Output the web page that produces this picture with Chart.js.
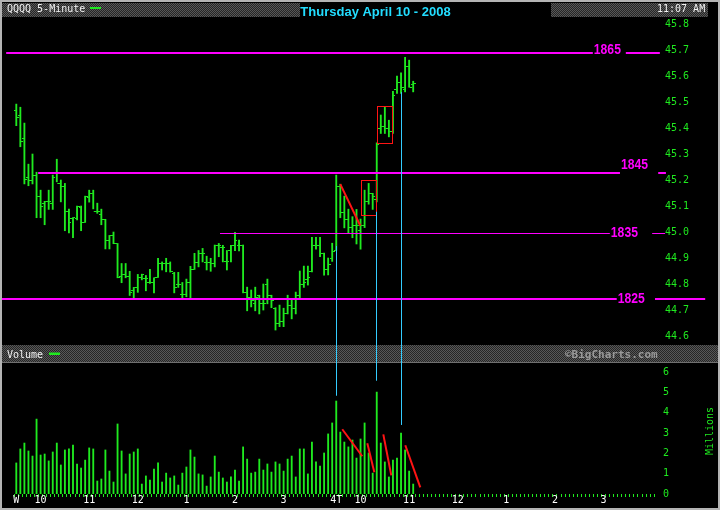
<!DOCTYPE html>
<html lang="en">
<head>
<meta charset="UTF-8">
<title>QQQQ 5-Minute</title>
<script src="https://cdn.jsdelivr.net/npm/chart.js"></script>
<style>
  html, body { margin: 0; padding: 0; background: #000; }
  #wrap { position: relative; width: 720px; height: 510px; background: #000; overflow: hidden; }
  #priceChart { position: absolute; left: 0; top: 0; }
  #volChart { position: absolute; left: 0; top: 345px; }
</style>
</head>
<body>
<div id="wrap">
  <canvas id="priceChart" width="720" height="345"></canvas>
  <canvas id="volChart" width="720" height="165"></canvas>
</div>
<script>
// 5-minute bars, index 0 = Wed 9:30, index 79 = Thu 9:30
const titleText = "Thursday April 10 - 2008";

const opens = [
  45.471,45.453,45.363,45.213,45.203,45.221,45.141,45.113,45.121,45.113,
  45.233,45.190,45.177,45.082,45.054,45.054,45.098,45.040,45.136,45.152,
  45.082,45.072,45.052,44.971,44.988,44.959,44.831,44.841,44.832,44.780,
  44.790,44.828,44.823,44.810,44.810,44.828,44.883,44.883,44.883,44.844,
  44.802,44.764,44.764,44.809,44.859,44.885,44.921,44.885,44.885,44.881,
  44.952,44.942,44.890,44.932,44.952,44.953,44.953,44.770,44.750,44.730,
  44.760,44.730,44.800,44.760,44.710,44.650,44.660,44.690,44.720,44.710,
  44.760,44.800,44.820,44.850,44.950,44.950,44.920,44.860,44.900,44.933,
  45.180,45.080,45.050,45.020,45.030,45.010,45.030,45.120,45.150,45.130,
  45.400,45.410,45.400,45.390,45.550,45.580,45.550,45.640,45.570
];
const highs = [
  45.495,45.483,45.422,45.264,45.303,45.233,45.164,45.121,45.164,45.222,
  45.283,45.203,45.190,45.091,45.059,45.103,45.103,45.141,45.164,45.164,
  45.114,45.091,45.052,44.990,45.003,44.959,44.882,44.882,44.852,44.790,
  44.840,44.841,44.836,44.860,44.827,44.902,44.888,44.902,44.888,44.848,
  44.848,44.809,44.822,44.871,44.921,44.932,44.940,44.910,44.902,44.953,
  44.959,44.952,44.932,44.952,45.002,44.972,44.953,44.791,44.780,44.791,
  44.760,44.803,44.822,44.760,44.712,44.722,44.710,44.760,44.741,44.772,
  44.853,44.872,44.872,44.983,44.983,44.983,44.922,44.903,44.960,45.222,
  45.187,45.141,45.091,45.062,45.090,45.053,45.164,45.190,45.152,45.346,
  45.453,45.485,45.433,45.544,45.603,45.615,45.675,45.664,45.583
];
const lows = [
  45.412,45.331,45.188,45.181,45.188,45.058,45.058,45.031,45.090,45.090,
  45.196,45.119,45.008,45.000,44.981,45.050,45.008,45.040,45.118,45.092,
  45.075,45.031,44.938,44.938,44.958,44.827,44.808,44.827,44.759,44.746,
  44.771,44.819,44.777,44.805,44.769,44.828,44.857,44.850,44.849,44.769,
  44.790,44.750,44.754,44.750,44.859,44.869,44.888,44.857,44.852,44.869,
  44.908,44.888,44.857,44.888,44.931,44.930,44.769,44.700,44.715,44.700,
  44.688,44.703,44.727,44.712,44.626,44.639,44.639,44.688,44.669,44.688,
  44.745,44.790,44.799,44.850,44.937,44.908,44.837,44.838,44.890,44.933,
  45.058,45.019,44.998,44.981,44.957,44.937,45.020,45.110,45.090,45.119,
  45.382,45.382,45.369,45.382,45.536,45.536,45.542,45.560,45.542
];
const closes = [
  45.444,45.352,45.205,45.203,45.221,45.141,45.103,45.121,45.121,45.213,
  45.190,45.180,45.082,45.040,45.059,45.103,45.040,45.138,45.152,45.082,
  45.082,45.053,44.971,44.988,44.959,44.828,44.841,44.832,44.771,44.790,
  44.828,44.841,44.823,44.810,44.828,44.883,44.883,44.883,44.850,44.790,
  44.802,44.764,44.809,44.859,44.885,44.921,44.921,44.885,44.881,44.952,
  44.952,44.942,44.890,44.952,44.971,44.953,44.771,44.750,44.740,44.750,
  44.730,44.730,44.760,44.740,44.650,44.660,44.690,44.720,44.710,44.760,
  44.800,44.810,44.830,44.950,44.950,44.920,44.860,44.880,44.930,45.180,
  45.080,45.050,45.020,45.030,45.030,45.030,45.120,45.150,45.140,45.340,
  45.410,45.400,45.390,45.530,45.580,45.560,45.640,45.560,45.575
];
// volume in millions
const volumes = [
  1.53,2.22,2.51,2.12,1.87,3.69,1.92,1.97,1.63,2.07,
  2.51,1.43,2.17,2.22,2.41,1.48,1.28,1.67,2.27,2.22,
  0.64,0.74,2.17,1.13,0.59,3.45,2.12,0.99,1.97,2.07,
  2.22,0.49,0.89,0.69,1.23,1.53,0.59,1.03,0.79,0.89,
  0.44,1.03,1.33,2.17,1.82,0.99,0.94,0.39,0.84,1.87,
  1.08,0.79,0.59,0.84,1.18,0.64,2.32,1.72,1.03,1.08,
  1.72,1.18,1.48,1.08,1.58,1.48,1.13,1.72,1.87,0.84,
  2.22,2.22,0.99,2.56,1.58,1.38,2.02,2.96,3.50,4.58,
  3.05,2.56,2.32,2.66,1.77,2.71,3.50,2.02,1.03,5.02,
  2.51,1.58,0.84,1.67,1.77,3.00,2.17,1.13,0.49
];

const hourLabels = ['W','10','11','12','1','2','3','4T','10','11','12','1','2','3'];
const hourIdx    = [0, 6, 18, 30, 42, 54, 66, 79, 85, 97, 109, 121, 133, 145];
const slotCount = 158; // Wed + Thu sessions

const priceTicks = [44.6,44.7,44.8,44.9,45.0,45.1,45.2,45.3,45.4,45.5,45.6,45.7,45.8];
const volTicks = [0,1,2,3,4,5,6];

const levelValues = [45.69, 45.231, 45.0, 44.744];
const levelNames = ['1865', '1845', '1835', '1825'];

// hand drawn marks, in bar index / price / volume units
const levelDraw = [
  { from: -2.5, labelAt: 142.6, resume: 150.5, to: 158.9, width: 2, dy: -3 },
  { from: 5.4,  labelAt: 149.3, resume: 158.5, to: 160.4, width: 2, dy: -7.5 },
  { from: 50.3, labelAt: 146.8, resume: 157.0, to: 160.2, width: 1, dy: -0.5 },
  { from: -4.0, labelAt: 148.5, resume: 157.7, to: 170.1, width: 2, dy: 0 }
];
const redBoxes = [
  { x0: 89.14, x1: 92.7, top: 45.487, bottom: 45.346 },
  { x0: 85.19, x1: 88.74, top: 45.202, bottom: 45.069 }
];
const priceTrend = [{ x0: 80.0, y0: 45.187, x1: 84.94, y1: 45.027 }];
const volTrend = [
  { x0: 80.49, y0: 3.19, x1: 85.43, y1: 1.86 },
  { x0: 86.67, y0: 2.50, x1: 88.40, y1: 1.07 },
  { x0: 90.62, y0: 2.94, x1: 92.59, y1: 0.92 },
  { x0: 96.05, y0: 2.40, x1: 99.75, y1: 0.33 }
];
const cyanLines = [
  { idx: 79.0,  price: 44.949, vol: 4.84 },
  { idx: 88.9,  price: 45.081, vol: 5.58 },
  { idx: 95.06, price: 45.541, vol: 3.40 }
];

const mono = "'DejaVu Sans Mono', monospace";
const green = '#1fea1f';
const magenta = '#ff00ff';
const cyan = '#33ccff';
const red = '#ff1414';

const barIdx = opens.map((_, i) => i);
const slots = Array.from({ length: slotCount }, (_, i) => i);

function dither(ctx) {
  const c = document.createElement('canvas');
  c.width = 2; c.height = 2;
  const g = c.getContext('2d');
  g.fillStyle = '#262626'; g.fillRect(0, 0, 2, 2);
  g.fillStyle = '#585858'; g.fillRect(0, 0, 1, 1); g.fillRect(1, 1, 1, 1);
  return ctx.createPattern(c, 'repeat');
}

function tickImage(side) {
  const c = document.createElement('canvas');
  c.width = 5; c.height = 1;
  const g = c.getContext('2d');
  g.fillStyle = green;
  g.fillRect(side === 'left' ? 0 : 3, 0, 2, 1);
  return c;
}

function crisp(v) { return Math.round(v) + 0.5; }

function segment(ctx, x0, y0, x1, y1) {
  ctx.beginPath(); ctx.moveTo(x0, y0); ctx.lineTo(x1, y1); ctx.stroke();
}

// keep the plot area exactly where the layout padding puts it
function fixAxis(s) {
  s.width = 60;
  s.paddingTop = 0;
  s.paddingBottom = 0;
}

// shared x axis: bar index
const xMin = -3.53, xMax = 158.94;

const priceDecor = {
  id: 'priceDecor',
  beforeDraw(chart) {
    const ctx = chart.ctx;
    ctx.save();
    ctx.fillStyle = '#000';
    ctx.fillRect(0, 0, chart.width, chart.height);
    ctx.fillStyle = dither(ctx);
    ctx.fillRect(2, 3, 298, 14);
    ctx.fillRect(551, 3, 157, 14);
    ctx.font = `10px ${mono}`;
    ctx.fillStyle = '#f2f2f2';
    ctx.fillText('QQQQ 5-Minute', 7, 12);
    ctx.fillText('11:07 AM', 657, 12);
    ctx.fillStyle = green;
    ctx.fillRect(90, 7, 11, 2);
    ctx.font = "bold 13px 'Liberation Sans', Arial, sans-serif";
    ctx.fillStyle = '#22ddff';
    ctx.textAlign = 'center';
    ctx.fillText(titleText, 375.5, 15.5);
    ctx.restore();
  },
  afterDatasetsDraw(chart) {
    const ctx = chart.ctx;
    const xs = chart.scales.x, ys = chart.scales.y;
    ctx.save();

    // support / resistance levels
    levelValues.forEach((v, i) => {
      const d = levelDraw[i];
      const y = d.width === 1 ? crisp(ys.getPixelForValue(v)) : Math.round(ys.getPixelForValue(v));
      const lx = xs.getPixelForValue(d.labelAt);
      ctx.strokeStyle = magenta;
      ctx.lineWidth = d.width;
      segment(ctx, xs.getPixelForValue(d.from), y, lx - 1, y);
      segment(ctx, xs.getPixelForValue(d.resume), y, xs.getPixelForValue(d.to), y);
      ctx.save();
      ctx.translate(lx, y + d.dy);
      ctx.scale(0.87, 1);
      ctx.font = "bold 14px 'Liberation Sans', Arial, sans-serif";
      ctx.fillStyle = magenta;
      ctx.textBaseline = 'middle';
      ctx.fillText(levelNames[i], 0, 0);
      ctx.restore();
    });

    // red boxes
    ctx.strokeStyle = red;
    ctx.lineWidth = 1;
    redBoxes.forEach(b => {
      const x0 = crisp(xs.getPixelForValue(b.x0)), x1 = crisp(xs.getPixelForValue(b.x1));
      const y0 = crisp(ys.getPixelForValue(b.top)), y1 = crisp(ys.getPixelForValue(b.bottom));
      ctx.strokeRect(x0, y0, x1 - x0, y1 - y0);
    });

    // red trend line
    ctx.lineWidth = 2;
    priceTrend.forEach(t => {
      segment(ctx, xs.getPixelForValue(t.x0), ys.getPixelForValue(t.y0),
                   xs.getPixelForValue(t.x1), ys.getPixelForValue(t.y1));
    });

    // cyan verticals down into volume panel
    ctx.strokeStyle = cyan;
    ctx.lineWidth = 1;
    cyanLines.forEach(c => {
      const x = crisp(xs.getPixelForValue(c.idx));
      segment(ctx, x, ys.getPixelForValue(c.price), x, chart.height);
    });
    ctx.restore();
  },
  afterDraw(chart) {
    const ctx = chart.ctx;
    ctx.save();
    ctx.strokeStyle = '#b4b4b4';
    ctx.lineWidth = 2;
    ctx.strokeRect(1, 1, 718, 508);
    ctx.restore();
  }
};

const volDecor = {
  id: 'volDecor',
  beforeDraw(chart) {
    const ctx = chart.ctx;
    ctx.save();
    ctx.fillStyle = '#000';
    ctx.fillRect(0, 0, chart.width, chart.height);
    ctx.fillStyle = dither(ctx);
    ctx.fillRect(2, 0, 716, 17);
    ctx.strokeStyle = '#707070';
    ctx.lineWidth = 1;
    segment(ctx, 2, 17.5, 718, 17.5);
    ctx.font = `10px ${mono}`;
    ctx.fillStyle = '#f2f2f2';
    ctx.fillText('Volume', 7, 13);
    ctx.fillStyle = green;
    ctx.fillRect(49, 7.5, 11, 2.5);
    ctx.font = `bold 11px ${mono}`;
    ctx.fillStyle = '#9a9a9a';
    ctx.fillText('\u00a9BigCharts.com', 565, 13);
    ctx.translate(710, 86);
    ctx.rotate(-Math.PI / 2);
    ctx.font = `10px ${mono}`;
    ctx.fillStyle = green;
    ctx.textAlign = 'center';
    ctx.textBaseline = 'middle';
    ctx.fillText('Millions', 0, 0);
    ctx.restore();
  },
  afterDatasetsDraw(chart) {
    const ctx = chart.ctx;
    const xs = chart.scales.x, ys = chart.scales.y;
    ctx.save();
    ctx.strokeStyle = cyan;
    ctx.lineWidth = 1;
    cyanLines.forEach(c => {
      const x = crisp(xs.getPixelForValue(c.idx));
      segment(ctx, x, 0, x, ys.getPixelForValue(c.vol));
    });
    ctx.strokeStyle = red;
    ctx.lineWidth = 2;
    volTrend.forEach(t => {
      segment(ctx, xs.getPixelForValue(t.x0), ys.getPixelForValue(t.y0),
                   xs.getPixelForValue(t.x1), ys.getPixelForValue(t.y1));
    });
    ctx.restore();
  },
  afterDraw(chart) {
    const ctx = chart.ctx;
    ctx.save();
    ctx.strokeStyle = '#b4b4b4';
    ctx.lineWidth = 2;
    ctx.strokeRect(1, 1 - 345, 718, 508);
    ctx.restore();
  }
};

const commonOptions = {
  responsive: false,
  animation: false,
  events: [],
  plugins: { legend: { display: false }, tooltip: { enabled: false } }
};

new Chart(document.getElementById('priceChart'), {
  type: 'bar',
  data: {
    datasets: [
      {
        label: 'High-Low',
        data: barIdx.map(i => ({ x: i, y: [lows[i], highs[i]] })),
        backgroundColor: green,
        borderWidth: 0,
        barThickness: 1.2,
        grouped: false
      },
      {
        type: 'scatter',
        label: 'Open',
        data: barIdx.map(i => ({ x: i, y: opens[i] })),
        pointStyle: tickImage('left'),
        pointRadius: 0.5,
        pointBorderWidth: 0
      },
      {
        type: 'scatter',
        label: 'Close',
        data: barIdx.map(i => ({ x: i, y: closes[i] })),
        pointStyle: tickImage('right'),
        pointRadius: 0.5,
        pointBorderWidth: 0
      }
    ]
  },
  options: {
    ...commonOptions,
    layout: { autoPadding: false, padding: { left: 2, top: 17, right: 0, bottom: 0 } },
    scales: {
      x: { type: 'linear', min: xMin, max: xMax, offset: false, display: false },
      y: {
        position: 'right',
        min: 44.5685,
        max: 45.830,
        afterFit: fixAxis,
        afterBuildTicks: s => { s.ticks = priceTicks.map(v => ({ value: v })); },
        grid: { display: false, drawTicks: false },
        border: { display: false },
        ticks: {
          color: green,
          padding: 5,
          font: { family: mono, size: 10 },
          callback: v => Number(v).toFixed(1)
        }
      }
    }
  },
  plugins: [priceDecor]
});

new Chart(document.getElementById('volChart'), {
  type: 'bar',
  data: {
    datasets: [{
      label: 'Volume',
      data: barIdx.map(i => ({ x: i, y: volumes[i] })),
      backgroundColor: green,
      borderWidth: 0,
      barThickness: 1.2
    }]
  },
  options: {
    ...commonOptions,
    layout: { autoPadding: false, padding: { left: 2, top: 18, right: 0, bottom: 0 } },
    scales: {
      x: {
        type: 'linear',
        min: xMin,
        max: xMax,
        offset: false,
        afterFit: s => { s.height = 16; },
        afterBuildTicks: s => { s.ticks = slots.map(v => ({ value: v })); },
        grid: { display: true, drawOnChartArea: false, drawTicks: true, tickLength: 3, color: green, tickColor: green },
        border: { display: false },
        ticks: {
          autoSkip: false,
          maxRotation: 0,
          padding: -3,
          color: '#ffffff',
          font: { family: mono, size: 10 },
          callback: v => {
            const k = hourIdx.indexOf(v);
            return k >= 0 ? hourLabels[k] : '';
          }
        }
      },
      y: {
        position: 'right',
        min: 0,
        max: 6.453,
        afterFit: fixAxis,
        afterBuildTicks: s => { s.ticks = volTicks.map(v => ({ value: v })); },
        grid: { display: false, drawTicks: false },
        border: { display: false },
        ticks: { color: green, padding: 3, font: { family: mono, size: 10 } }
      }
    }
  },
  plugins: [volDecor]
});
</script>
</body>
</html>
